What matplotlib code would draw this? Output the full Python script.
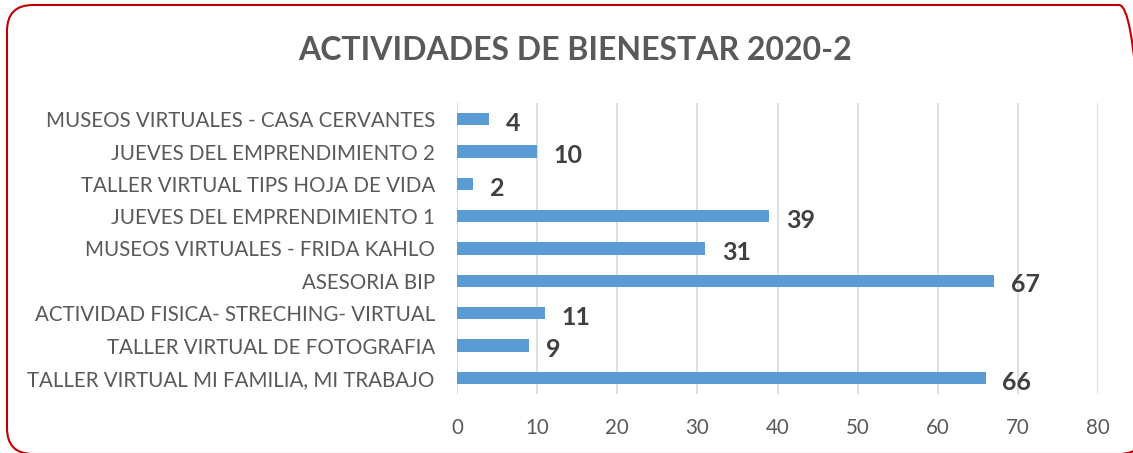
import matplotlib
matplotlib.use("Agg")
import matplotlib.pyplot as plt
from matplotlib.patches import FancyBboxPatch
from matplotlib.transforms import IdentityTransform

categories = [
    "TALLER VIRTUAL MI FAMILIA, MI TRABAJO",
    "TALLER VIRTUAL DE FOTOGRAFIA",
    "ACTIVIDAD FISICA- STRECHING- VIRTUAL",
    "ASESORIA BIP",
    "MUSEOS VIRTUALES - FRIDA KAHLO",
    "JUEVES DEL EMPRENDIMIENTO 1",
    "TALLER VIRTUAL TIPS HOJA DE VIDA",
    "JUEVES DEL EMPRENDIMIENTO 2",
    "MUSEOS VIRTUALES - CASA CERVANTES",
]
values = [66, 9, 11, 67, 31, 39, 2, 10, 4]
xticks = [0, 10, 20, 30, 40, 50, 60, 70, 80]
title = "ACTIVIDADES DE BIENESTAR 2020-2"

plt.rcParams['font.family'] = ['Lato', 'DejaVu Sans']

W, H = 1133, 453
fig = plt.figure(figsize=(W / 100, H / 100), dpi=100)
fig.patch.set_facecolor("white")

# rounded red border (pixel coordinates, origin bottom-left)
border = FancyBboxPatch((7, -1), 1145 - 7, H - 5 + 1,
                        boxstyle="round,pad=0,rounding_size=26",
                        transform=IdentityTransform(), facecolor="none",
                        edgecolor="#C00000", linewidth=1.5, zorder=0)
fig.patches.append(border)

ax = fig.add_axes([457 / W, 1 - 394 / H, (1098 - 457) / W, (394 - 103) / H])
ax.set_facecolor("none")
y = list(range(len(categories)))
ax.barh(y, values, height=0.38, color="#5B9BD5", zorder=3)
for yi, v in zip(y, values):
    ax.annotate(str(v), (v, yi), xytext=(12, -3), textcoords="offset points",
                va="center", ha="left", fontsize=18, fontweight="bold",
                color="#404040")

ax.set_xlim(0, 80)
ax.set_ylim(-0.5, len(categories) - 0.5)
ax.set_xticks(xticks)
ax.set_yticks(y)
ax.set_yticklabels(categories)
ax.tick_params(axis="both", length=0, labelsize=14.8, colors="#595959")
ax.tick_params(axis="x", pad=17)
ax.tick_params(axis="y", pad=16)
ax.grid(axis="x", color="#D9D9D9", linewidth=1.2, zorder=0)
for s in ax.spines.values():
    s.set_visible(False)
ax.axvline(0, color="#D9D9D9", linewidth=1.2, zorder=2)

fig.text(575 / W, 1 - 50 / H, title, ha="center", va="center",
         fontsize=23, fontweight="bold", color="#595959")

fig.savefig("out.png", dpi=100, facecolor="white")
